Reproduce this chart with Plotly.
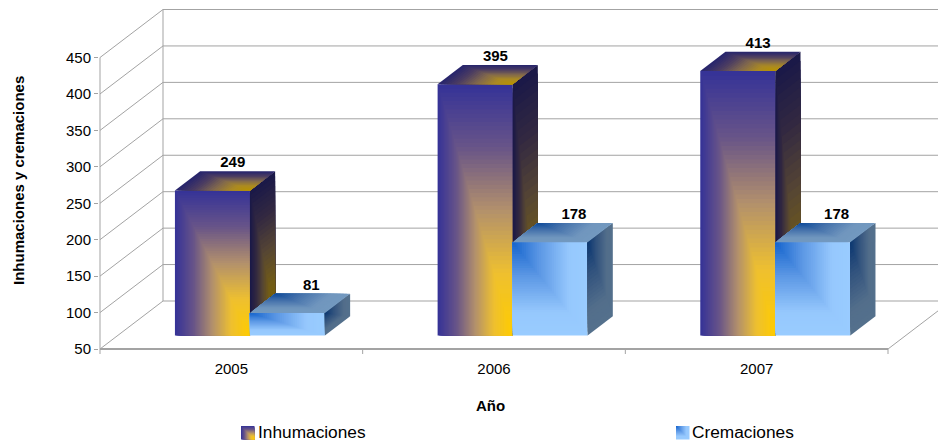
import plotly.graph_objects as go

# ---- data ----
years = ["2005", "2006", "2007"]
inhumaciones = [249, 395, 413]
cremaciones = [81, 178, 178]
y_ticks = [50, 100, 150, 200, 250, 300, 350, 400, 450]
series_names = ["Inhumaciones", "Cremaciones"]
x_title = "Año"
y_title = "Inhumaciones y cremaciones"

# ---- frame geometry ----
W, H = 938, 442
ML, MR, MT, MB = 99, 0, 8, 88
PX_PER_CAT = 788 / 3
PX_PER_VAL = 291.5 / 400
DX = 63 / PX_PER_CAT      # wall depth in axis units
DY = 48 / PX_PER_VAL
X_MIN = -1 / PX_PER_CAT
X_MAX = X_MIN + (W - ML - MR) / PX_PER_CAT
Y_MIN = 50 - 5 / PX_PER_VAL
Y_MAX = Y_MIN + (H - MT - MB) / PX_PER_VAL
BAR_W = 75 / PX_PER_CAT
GAP = 57.3 / PX_PER_CAT
D0, D1 = 0.28, 0.68       # bar position in the depth
GRID = "#a3a3a3"

INH = [(0, (255, 204, 0)), (.25, (238, 192, 48)), (.5, (178, 144, 108)),
       (.75, (104, 84, 136)), (1, (52, 50, 152))]
CRE = [(0, (20, 100, 205)), (.35, (90, 150, 228)), (.75, (150, 200, 253)), (1, (153, 204, 255))]


def ramp(stops, t, shade=1.0):
    for (a, ca), (b, cb) in zip(stops, stops[1:]):
        if t <= b:
            f = (t - a) / (b - a)
            c = [ca[i] + (cb[i] - ca[i]) * f for i in range(3)]
            break
    return "rgb(%d,%d,%d)" % tuple(round(v * shade) for v in c)


def pr(c, v, d):
    return c + d * DX, v + d * DY


fig = go.Figure()


def line(xs, ys, width=1, color=GRID):
    fig.add_trace(go.Scatter(x=xs, y=ys, mode="lines", showlegend=False, hoverinfo="skip",
                             line=dict(color=color, width=width)))


# walls and floor
for v in y_ticks:
    a = pr(0, v, 0)
    b = pr(0, v, 1)
    far = pr(3.4, v, 1)
    line([a[0], b[0], far[0]], [a[1], b[1], far[1]])
a, b = pr(0, y_ticks[0], 1), pr(0, y_ticks[-1], 1)
line([a[0], b[0]], [a[1], b[1]])
line([0, 0], [y_ticks[0], y_ticks[-1]])
f, g = pr(3, 50, 0), pr(3, 50, 1)
line([f[0], g[0]], [f[1], g[1]])
line([0, 3], [50, 50], width=2)
for c in range(4):
    line([c, c], [50, Y_MIN])


def face(origin, eu, ev, stops, shade, n):
    """Corner gradient: nested quads growing from the face corner `origin`."""
    for i in range(n, 0, -1):
        t = i / n
        p = [origin,
             (origin[0] + eu[0] * t, origin[1] + eu[1] * t),
             (origin[0] + (eu[0] + ev[0]) * t, origin[1] + (eu[1] + ev[1]) * t),
             (origin[0] + ev[0] * t, origin[1] + ev[1] * t),
             origin]
        fig.add_trace(go.Scatter(x=[q[0] for q in p], y=[q[1] for q in p], mode="lines",
                                 fill="toself", fillcolor=ramp(stops, t - .5 / n, shade),
                                 line=dict(width=0), showlegend=False, hoverinfo="skip"))


def bar_faces(left, val, kind):
    right = left + BAR_W
    fbr = pr(right, 50, D0)
    ftl, ftr = pr(left, val, D0), pr(right, val, D0)
    btl, btr = pr(left, val, D1), pr(right, val, D1)
    bbr = pr(right, 50, D1)
    dep = (btr[0] - ftr[0], btr[1] - ftr[1])
    wid = (right - left, 0)
    hgt = (0, val - 50)
    neg = lambda p: (-p[0], -p[1])
    if kind == 0:
        face(fbr, neg(wid), hgt, INH, 1, 60)
        face(bbr, neg(dep), hgt, INH, .48, 30)
        face(ftr, neg(wid), dep, INH, .72, 24)
    else:
        face(ftl, wid, neg(hgt), CRE, 1, 40)
        face(ftr, dep, neg(hgt), CRE, .55, 24)
        face(btl, wid, neg(dep), CRE, .75, 24)


for i in range(3):
    left = i + GAP
    bar_faces(left, inhumaciones[i], 0)
    bar_faces(left + BAR_W, cremaciones[i], 1)

# value labels
for k, (vals, off) in enumerate(((inhumaciones, 7.7), (cremaciones, 11.2))):
    xs = []
    ys = []
    for i, v in enumerate(vals):
        xs.append(pr(i + GAP + (k + .5) * BAR_W, v, (D0 + D1) / 2)[0] + off / PX_PER_CAT)
        ys.append(pr(0, v, D1)[1] + 8 / PX_PER_VAL)
    fig.add_trace(go.Scatter(x=xs, y=ys, mode="text", text=[str(v) for v in vals], cliponaxis=False,
                             textposition="middle center", showlegend=False, hoverinfo="skip",
                             textfont=dict(family="Liberation Sans", size=15, color="#000000",
                                           weight="bold")))

# legend entries (swatches are drawn as gradient shapes below)
for name, vals, lg in zip(series_names, (inhumaciones, cremaciones), ("legend", "legend2")):
    fig.add_trace(go.Scatter(x=[i + .5 for i in range(3)], y=vals, mode="markers", name=name, legend=lg,
                             marker=dict(size=1, color="rgba(0,0,0,0)"), hoverinfo="skip",
                             showlegend=True))

# legend swatches
shapes = []
PW, PH = W - ML - MR, H - MT - MB


def pap(px, py):
    return (px - ML) / PW, (H - MB - py) / PH


for (x0, stops, from_br) in ((241, INH, True), (676, CRE, False)):
    y0, s, n = 426, 13.5, 14
    for i in range(n, 0, -1):
        t = i / n
        col = ramp(stops, t - .5 / n)
        if from_br:
            xa, xb, ya, yb = x0 + s * (1 - t), x0 + s, y0 + s * (1 - t), y0 + s
        else:
            xa, xb, ya, yb = x0, x0 + s * t, y0, y0 + s * t
        path = "M%s L%s L%s L%s Z" % tuple(
            "%.5f,%.5f" % pap(*p) for p in ((xa, ya), (xb, ya), (xb, yb), (xa, yb)))
        shapes.append(dict(type="path", xref="paper", yref="paper", path=path,
                           fillcolor=col, line=dict(width=0), layer="above"))

fnt = dict(family="Liberation Sans", color="#000000")
ax, ay = pap(490.5, 405)
bx, by = pap(18, 181)
lg_common = dict(orientation="h", xanchor="left", yanchor="top", font=dict(size=17.3, **fnt),
                 bgcolor="rgba(0,0,0,0)", itemclick=False, itemdoubleclick=False)
fig.update_layout(
    width=W, height=H, margin=dict(l=ML, r=MR, t=MT, b=MB, autoexpand=False),
    paper_bgcolor="white", plot_bgcolor="white", shapes=shapes, hovermode=False,
    font=dict(family="Liberation Sans", size=15, color="#000000"),
    annotations=[
        dict(text=x_title, xref="paper", yref="paper", x=ax, y=ay, xanchor="center", yanchor="middle",
             showarrow=False, font=dict(size=15, weight="bold", **fnt)),
        dict(text=y_title, xref="paper", yref="paper", x=bx, y=by, xanchor="center", yanchor="middle",
             showarrow=False, textangle=-90, font=dict(size=15, weight="bold", **fnt)),
    ],
    xaxis=dict(range=[X_MIN, X_MAX], tickvals=[.5, 1.5, 2.5], ticktext=years, ticks="", showgrid=False,
               zeroline=False, showline=False, tickfont=dict(size=15, **fnt), ticklabelstandoff=4),
    yaxis=dict(range=[Y_MIN, Y_MAX], tickvals=y_ticks, ticks="outside", ticklen=4, tickcolor=GRID,
               showgrid=False, zeroline=False, showline=False, tickfont=dict(size=15, **fnt)),
    legend=dict(x=pap(218, 0)[0], y=pap(0, 414)[1], **lg_common),
    legend2=dict(x=pap(652, 0)[0], y=pap(0, 414)[1], **lg_common),
)
fig.write_html("out.html", post_script="document.body.style.margin='0';",
               config={"displayModeBar": False})
